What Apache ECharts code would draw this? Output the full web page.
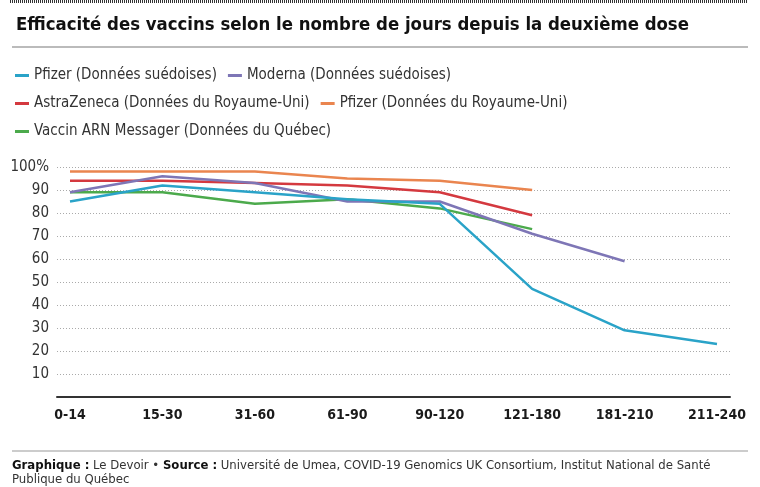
<!DOCTYPE html>
<html><head><meta charset="utf-8">
<script src="https://cdn.jsdelivr.net/npm/echarts@6/dist/echarts.min.js"></script>
<style>html,body{margin:0;padding:0;background:#fff}#c{width:760px;height:487px}</style>
</head><body><div id="c"></div>
<script>
const categories = ['0-14','15-30','31-60','61-90','90-120','121-180','181-210','211-240'];
const pfizerSE = [85, 92, 89, 86, 84, 47, 29, 23];
const modernaSE = [89, 96, 93, 85, 85, 71, 59, null];
const astraUK = [94, 94, 93, 92, 89, 79, null, null];
const pfizerUK = [98, 98, 98, 95, 94, 90, null, null];
const quebec = [89, 89, 84, 86, 82, 73, null, null];
const names = ['Pfizer (Données suédoises)','Moderna (Données suédoises)','AstraZeneca (Données du Royaume-Uni)','Pfizer (Données du Royaume-Uni)','Vaccin ARN Messager (Données du Québec)'];
const colors = ['#2aa3c8','#7e76b6','#d4393f','#ea854f','#4caa4c'];
const yTicks = [0,10,20,30,40,50,60,70,80,90,100];

const FONT = '"Liberation Sans Narrow","DejaVu Sans Condensed","Roboto Condensed",Roboto,sans-serif';
const chart = echarts.init(document.getElementById('c'), null, {renderer:'canvas'});
const legendBase = {orient:'horizontal', icon:'rect', itemWidth:14, itemHeight:3, itemGap:11,
  textStyle:{fontSize:15, color:'#333', fontFamily:FONT}, selectedMode:false};
const mkSeries = (i, d) => ({name:names[i], type:'line', xAxisIndex:0, yAxisIndex:0, data:d,
  showSymbol:false, symbol:'none', connectNulls:false, lineStyle:{width:2.5, color:colors[i]}, itemStyle:{color:colors[i]}});
chart.setOption({
  animation:false,
  title:{text:'Efficacité des vaccins selon le nombre de jours depuis la deuxième dose', left:11, top:11,
    textStyle:{fontSize:18.4, fontWeight:'bold', color:'#111', fontFamily:FONT}},
  legend:[
    Object.assign({}, legendBase, {left:10, top:63, data:[names[0], names[1]]}),
    Object.assign({}, legendBase, {left:10, top:91, data:[names[2], names[3]]}),
    Object.assign({}, legendBase, {left:10, top:119, data:[names[4]]})
  ],
  grid:[
    {left:70, right:43, top:167, bottom:90},
    {left:57, right:30, top:167, bottom:90}
  ],
  xAxis:[
    {type:'category', gridIndex:0, data:categories, boundaryGap:false,
     axisLine:{show:false}, axisTick:{show:false}, splitLine:{show:false},
     axisLabel:{margin:11, fontSize:14, fontWeight:'bold', color:'#1a1a1a', fontFamily:FONT, interval:0}},
    {type:'value', gridIndex:1, min:0, max:1, show:true,
     axisLine:{show:true, lineStyle:{color:'#333', width:2}}, axisTick:{show:false},
     axisLabel:{show:false}, splitLine:{show:false}}
  ],
  yAxis:[
    {type:'value', gridIndex:0, min:0, max:100, interval:10, show:false},
    {type:'value', gridIndex:1, min:0, max:100, interval:10,
     axisLine:{show:false}, axisTick:{show:false},
     axisLabel:{margin:8, fontSize:15, color:'#333', fontFamily:FONT,
       formatter:v => v===100 ? '100%' : (v===0 ? '' : String(v))},
     splitLine:{show:true, lineStyle:{type:[1,2], color:'#aaa', width:1}}}
  ],
  series:[
    mkSeries(3, pfizerUK),
    mkSeries(2, astraUK),
    mkSeries(4, quebec),
    mkSeries(1, modernaSE),
    mkSeries(0, pfizerSE)
  ],
  graphic:[
    {type:'line', shape:{x1:10,y1:1.5,x2:748,y2:1.5}, style:{stroke:'#333', lineWidth:3, lineDash:[1,1]}},
    {type:'line', shape:{x1:12,y1:47,x2:748,y2:47}, style:{stroke:'#bbb', lineWidth:2}},
    {type:'line', shape:{x1:12,y1:451,x2:748,y2:451}, style:{stroke:'#bbb', lineWidth:1.5}},
    {type:'text', left:12, top:459, style:{
      text:'{b|Graphique :} Le Devoir • {b|Source :} Université de Umea, COVID-19 Genomics UK Consortium, Institut National de Santé\nPublique du Québec',
      fontSize:13, lineHeight:14, fill:'#333', fontFamily:FONT,
      rich:{b:{fontWeight:'bold', fontSize:13, fill:'#111', fontFamily:FONT}}}}
  ]
});
</script></body></html>
